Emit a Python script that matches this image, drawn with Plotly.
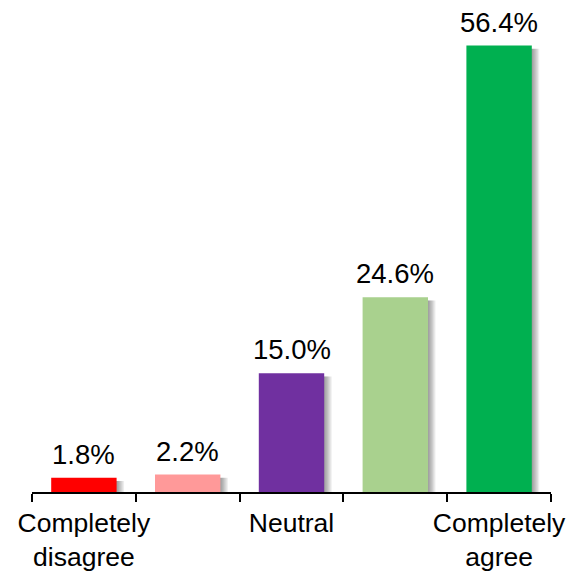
import plotly.graph_objects as go

categories = ["Completely disagree", "Disagree", "Neutral", "Agree", "Completely agree"]
tick_labels = ["Completely<br>disagree", "", "Neutral", "", "Completely<br>agree"]
values = [1.8, 2.2, 15.0, 24.6, 56.4]
colors = ["#FF0000", "#FF9999", "#7030A0", "#A9D18E", "#00B050"]

x_pos = list(range(len(categories)))
bar_w = 0.63
font = "Liberation Sans, Arial, sans-serif"

fig = go.Figure()

# soft drop shadow to the right of each bar
for dx in [0.012, 0.024, 0.036, 0.048, 0.06, 0.072]:
    fig.add_trace(go.Bar(
        x=x_pos, y=[v - 0.4 for v in values],
        width=bar_w, offset=-bar_w / 2 + dx,
        marker=dict(color="rgba(0,0,0,0.07)", line=dict(width=0)),
        hoverinfo="skip", showlegend=False
    ))

fig.add_trace(go.Bar(
    x=x_pos, y=values,
    width=bar_w, offset=-bar_w / 2,
    marker=dict(color=colors, line=dict(width=0)),
    showlegend=False
))

for xi, v in zip(x_pos, values):
    fig.add_annotation(
        x=xi, y=v, text=f"{v:.1f}%", showarrow=False,
        yanchor="bottom", yshift=6,
        font=dict(family=font, size=27.5, color="black")
    )

fig.update_layout(
    barmode="overlay",
    width=576, height=573,
    margin=dict(l=32, r=25, t=10, b=81),
    plot_bgcolor="white", paper_bgcolor="white",
    font=dict(family=font, size=27.5, color="black"),
    xaxis=dict(
        range=[-0.5, len(categories) - 0.5],
        tickmode="array", tickvals=x_pos, ticktext=tick_labels,
        tickfont=dict(size=26.5),
        ticks="", showgrid=False, zeroline=False, automargin=False,
        ticklabelstandoff=6,
        showline=True, linecolor="black", linewidth=1.5,
        minor=dict(tick0=-0.5, dtick=1, ticks="outside", ticklen=8,
                   tickcolor="black", tickwidth=1.5, showgrid=False),
    ),
    yaxis=dict(range=[0, 60.9], visible=False),
)

# drop the default 8px body margin so the figure fills the window
fig.write_html("out.html", config={"displayModeBar": False},
               post_script="document.body.style.margin='0';")
